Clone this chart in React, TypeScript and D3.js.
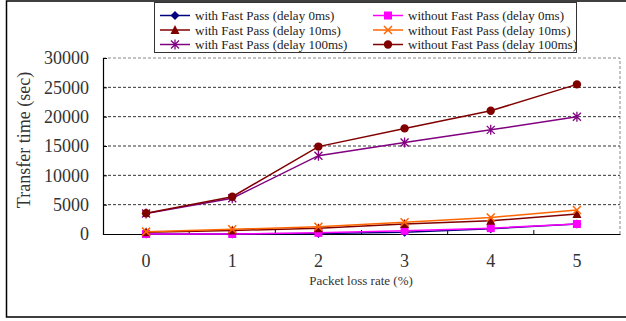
import { useEffect, useRef } from "react";
import * as d3 from "d3";

const lossRates = ["0", "1", "2", "3", "4", "5"];
const yTicks = [0, 5000, 10000, 15000, 20000, 25000, 30000];

const withFp0 = [0, 0, 100, 300, 900, 1700];
const withoutFp0 = [0, 0, 200, 550, 1000, 1700];
const withFp10 = [300, 600, 1000, 1700, 2250, 3400];
const withoutFp10 = [400, 800, 1250, 2000, 2800, 4100];
const withFp100 = [3500, 6100, 13350, 15600, 17750, 20000];
const withoutFp100 = [3550, 6350, 14900, 18000, 21000, 25500];

const seriesNames = [
  "with Fast Pass (delay 0ms)",
  "without Fast Pass (delay 0ms)",
  "with Fast Pass (delay 10ms)",
  "without Fast Pass (delay 10ms)",
  "with Fast Pass (delay 100ms)",
  "without Fast Pass (delay 100ms)",
];

interface Series {
  name: string;
  values: number[];
  color: string;
  marker: string;
}

const series: Series[] = [
  { name: seriesNames[0], values: withFp0, color: "#000080", marker: "diamond" },
  { name: seriesNames[1], values: withoutFp0, color: "#ff00ff", marker: "square" },
  { name: seriesNames[2], values: withFp10, color: "#800000", marker: "triangle" },
  { name: seriesNames[3], values: withoutFp10, color: "#ff6600", marker: "x" },
  { name: seriesNames[4], values: withFp100, color: "#800080", marker: "asterisk" },
  { name: seriesNames[5], values: withoutFp100, color: "#800000", marker: "circle" },
];

const FONT = "'Liberation Serif', 'Times New Roman', serif";

function drawMarker(g: d3.Selection<SVGGElement, unknown, null, undefined>, kind: string, cx: number, cy: number, color: string) {
  if (kind === "diamond") {
    g.append("path")
      .attr("d", `M${cx},${cy - 4.5}L${cx + 4.5},${cy}L${cx},${cy + 4.5}L${cx - 4.5},${cy}Z`)
      .attr("fill", color);
  } else if (kind === "square") {
    g.append("rect").attr("x", cx - 4).attr("y", cy - 4).attr("width", 8).attr("height", 8).attr("fill", color);
  } else if (kind === "triangle") {
    g.append("path")
      .attr("d", `M${cx},${cy - 5}L${cx + 4.5},${cy + 4}L${cx - 4.5},${cy + 4}Z`)
      .attr("fill", color);
  } else if (kind === "x") {
    g.append("path")
      .attr("d", `M${cx - 4},${cy - 4}L${cx + 4},${cy + 4}M${cx - 4},${cy + 4}L${cx + 4},${cy - 4}`)
      .attr("stroke", color)
      .attr("stroke-width", 1.5);
  } else if (kind === "asterisk") {
    g.append("path")
      .attr("d", `M${cx - 4},${cy - 4}L${cx + 4},${cy + 4}M${cx - 4},${cy + 4}L${cx + 4},${cy - 4}M${cx},${cy - 5}L${cx},${cy + 5}`)
      .attr("stroke", color)
      .attr("stroke-width", 1.3);
  } else {
    g.append("circle").attr("cx", cx).attr("cy", cy).attr("r", 4.2).attr("fill", color);
  }
}

const App = () => {
  const svgRef = useRef<SVGSVGElement>(null);

  useEffect(() => {
    const svg = d3.select(svgRef.current);
    svg.selectAll("*").remove();

    const left = 103;
    const right = 620;
    const top = 58;
    const bottom = 234;

    const x = d3.scaleBand<string>().domain(lossRates).range([left, right]);
    const cx = (c: string) => (x(c) as number) + x.bandwidth() / 2;
    const y = d3.scaleLinear().domain([0, 30000]).range([bottom, top]);

    // outer frame
    svg.append("path")
      .attr("d", `M630,1H6.5V317H630`)
      .attr("fill", "none")
      .attr("stroke", "#000")
      .attr("stroke-width", 1.5);

    // plot border (top/right, grey dashed)
    svg.append("path")
      .attr("d", `M${left},${top}H${right}V${bottom}`)
      .attr("fill", "none")
      .attr("stroke", "#888")
      .attr("stroke-dasharray", "3,2");

    // gridlines
    svg.append("g")
      .selectAll("line")
      .data(yTicks.filter((t) => t > 0 && t < 30000))
      .enter()
      .append("line")
      .attr("x1", left)
      .attr("x2", right)
      .attr("y1", (d) => y(d))
      .attr("y2", (d) => y(d))
      .attr("stroke", "#333")
      .attr("stroke-dasharray", "3,2");

    // axes
    const yAxis = svg.append("g")
      .attr("transform", `translate(${left},0)`)
      .call(d3.axisLeft(y).tickValues(yTicks).tickSize(-4).tickPadding(14).tickFormat((d) => String(d)));
    yAxis.select(".domain").attr("stroke", "#000").attr("stroke-width", 1.2);
    yAxis.selectAll("text").attr("font-family", FONT).attr("font-size", 18).attr("fill", "#333");

    const xAxis = svg.append("g")
      .attr("transform", `translate(0,${bottom})`)
      .call(d3.axisBottom(x).tickSize(0).tickPadding(20));
    xAxis.select(".domain").attr("stroke", "#000").attr("stroke-width", 1.2);
    xAxis.selectAll("text").attr("font-family", FONT).attr("font-size", 18).attr("fill", "#333");

    svg.append("g")
      .selectAll("line")
      .data(lossRates.slice(1))
      .enter()
      .append("line")
      .attr("x1", (d) => x(d) as number)
      .attr("x2", (d) => x(d) as number)
      .attr("y1", bottom)
      .attr("y2", bottom - 4)
      .attr("stroke", "#000");

    // axis titles
    svg.append("text")
      .attr("transform", `translate(30,${(top + bottom) / 2 - 6}) rotate(-90)`)
      .attr("text-anchor", "middle")
      .attr("font-family", FONT)
      .attr("font-size", 18)
      .attr("fill", "#333")
      .text("Transfer time (sec)");

    svg.append("text")
      .attr("x", 361)
      .attr("y", 285)
      .attr("text-anchor", "middle")
      .attr("font-family", FONT)
      .attr("font-size", 13)
      .attr("fill", "#333")
      .text("Packet loss rate (%)");

    // series
    const line = d3.line<number>()
      .x((_, i) => cx(lossRates[i]))
      .y((d) => y(d));

    series.forEach((s) => {
      const g = svg.append("g");
      g.append("path")
        .attr("d", line(s.values))
        .attr("fill", "none")
        .attr("stroke", s.color)
        .attr("stroke-width", 1.5);
      s.values.forEach((v, i) => drawMarker(g as any, s.marker, cx(lossRates[i]), y(v), s.color));
    });

    // legend
    const legend = svg.append("g");
    legend.append("rect")
      .attr("x", 154.5)
      .attr("y", 2.5)
      .attr("width", 422)
      .attr("height", 50)
      .attr("fill", "#fff")
      .attr("stroke", "#333");
    series.forEach((s, i) => {
      const col = i % 2;
      const row = Math.floor(i / 2);
      const lx = col === 0 ? 160 : 373;
      const ly = 15.5 + row * 14.5;
      const g = legend.append("g");
      g.append("line")
        .attr("x1", lx)
        .attr("x2", lx + 30)
        .attr("y1", ly)
        .attr("y2", ly)
        .attr("stroke", s.color)
        .attr("stroke-width", 1.5);
      drawMarker(g as any, s.marker, lx + 15, ly, s.color);
      g.append("text")
        .attr("x", lx + 35)
        .attr("y", ly + 4.5)
        .attr("font-family", FONT)
        .attr("font-size", 13)
        .attr("fill", "#222")
        .text(s.name);
    });
  }, []);

  return (
    <svg
      ref={svgRef}
      width={626}
      height={321}
      style={{ position: "absolute", left: 0, top: 0, background: "#fff" }}
    ></svg>
  );
};

export default App;
